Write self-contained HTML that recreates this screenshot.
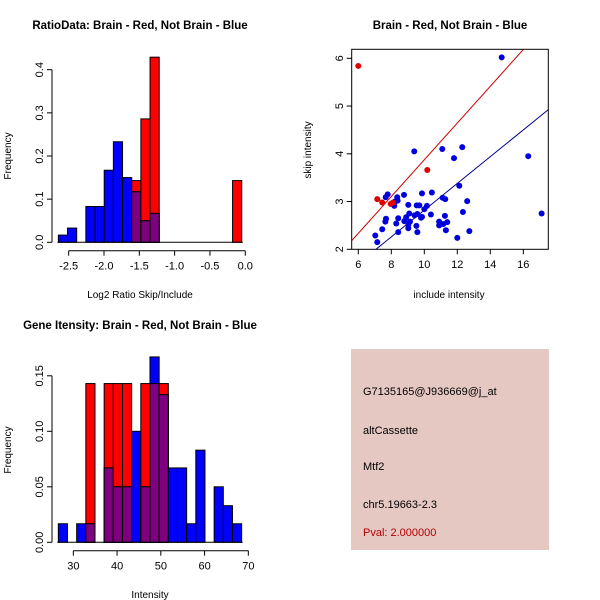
<!DOCTYPE html>
<html><head><meta charset="utf-8"><style>
body{margin:0;background:#fff;}
svg{display:block;font-family:"Liberation Sans",sans-serif;}
</style></head><body>
<svg id="s" width="600" height="600" viewBox="0 0 600 600">
<rect width="600" height="600" fill="#fff"/>
<text x="140" y="29" font-size="11.5" font-weight="bold" text-anchor="middle">RatioData: Brain - Red, Not Brain - Blue</text>
<text x="450" y="29" font-size="11.5" font-weight="bold" text-anchor="middle">Brain - Red, Not Brain - Blue</text>
<text x="140" y="329" font-size="11.5" font-weight="bold" text-anchor="middle">Gene Itensity: Brain - Red, Not Brain - Blue</text>
<text x="140" y="298" font-size="10" text-anchor="middle">Log2 Ratio Skip/Include</text>
<text transform="translate(11,156) rotate(-90)" font-size="10" text-anchor="middle">Frequency</text>
<text x="449" y="298" font-size="10" text-anchor="middle">include intensity</text>
<text transform="translate(311,150) rotate(-90)" font-size="10" text-anchor="middle">skip intensity</text>
<text x="150" y="598" font-size="10" text-anchor="middle">Intensity</text>
<text transform="translate(11,450) rotate(-90)" font-size="10" text-anchor="middle">Frequency</text>
<g>
<rect x="351" y="349" width="198" height="201" fill="#e6c8c2"/>
<text x="363" y="395" font-size="11">G7135165@J936669@j_at</text>
<text x="363" y="434" font-size="11">altCassette</text>
<text x="363" y="470" font-size="11">Mtf2</text>
<text x="363" y="508" font-size="11">chr5.19663-2.3</text>
<text x="363" y="536" font-size="11" fill="#b00000">Pval: 2.000000</text>
</g>
</svg>
<script>
// Ratio histogram data
const ratioStart = -2.646, ratioWidth = 0.1298;
const ratioBlue = [0.0167,0.033,0,0.083,0.083,0.167,0.233,0.15,0.117,0.05,0.067,0,0,0,0,0,0,0,0,0];
const ratioRed = [0,0,0,0,0,0,0,0,0.143,0.286,0.429,0,0,0,0,0,0,0,0,0.143];
const ratioXTicks = [-2.5,-2.0,-1.5,-1.0,-0.5,0.0];
const ratioXLabels = ["-2.5","-2.0","-1.5","-1.0","-0.5","0.0"];
const ratioYTicks = [0,0.1,0.2,0.3,0.4];
const ratioYLabels = ["0.0","0.1","0.2","0.3","0.4"];
// Intensity histogram data
const intStart = 26.57, intWidth = 2.095;
const intBlue = [0.0167,0,0.0167,0.0167,0,0.067,0.05,0.05,0.1,0.05,0.167,0.133,0.067,0.067,0.0167,0.083,0,0.05,0.033,0.0167];
const intRed = [0,0,0,0.143,0,0.143,0.143,0.143,0,0.143,0.143,0.143,0,0,0,0,0,0,0,0];
const intXTicks = [30,40,50,60,70];
const intXLabels = ["30","40","50","60","70"];
const intYTicks = [0,0.05,0.10,0.15];
const intYLabels = ["0.00","0.05","0.10","0.15"];
// Scatter data
const redX = [6.0,7.15,7.45,7.96,8.1,10.18];
const redY = [5.84,3.05,2.98,2.95,2.98,3.66];
const blueX = [14.69,16.3,17.11,9.39,11.09,12.30,11.8,12.12,10.46,9.86,11.11,11.27,12.6,12.34,12.73,12.0,11.31,11.39,11.25,11.15,10.9,10.9,10.4,10.16,10.0,9.86,9.58,9.41,9.54,9.7,9.03,8.77,8.36,8.38,8.22,8.18,7.78,7.66,7.68,7.64,7.45,7.03,7.15,8.42,8.3,8.42,8.79,8.9,9.03,9.03,9.09,9.13,9.52,9.58,9.8];
const blueY = [6.02,3.95,2.75,4.05,4.10,4.14,3.91,3.33,3.19,3.17,3.08,3.05,3.01,2.78,2.38,2.24,2.40,2.57,2.70,2.53,2.58,2.50,2.73,2.91,2.84,2.68,2.74,2.71,2.92,2.92,2.93,3.14,3.09,3.02,3.0,2.91,3.15,3.09,2.64,2.58,2.42,2.29,2.15,2.65,2.54,2.36,2.59,2.67,2.51,2.44,2.75,2.58,2.49,2.36,2.66];
const redFit = [0.024,0.385];
const blueFit = [0.02,0.28];
const scXTicks = [6,8,10,12,14,16];
const scYTicks = [2,3,4,5,6];

const NS="http://www.w3.org/2000/svg", svg=document.getElementById('s');
function mk(t,a,p){const e=document.createElementNS(NS,t);for(const k in a)e.setAttribute(k,a[k]);(p||svg).appendChild(e);return e;}

function hist(name,start,w,blue,red,xs,ys,xt,xl,yt,yl,axY){
  const g=mk('g',{});
  
  
  const n=blue.length;
  for(let i=0;i<n;i++){
    const x0=xs(start+i*w),x1=xs(start+(i+1)*w);
    const r=red[i],b=blue[i],m=Math.min(r,b);
    if(r>0){const e=mk('rect',{x:x0,y:ys(r),width:x1-x0,height:ys(0)-ys(r),fill:'#ff0000',stroke:'#000','stroke-width':1},g);
      
      }
    if(b>0){const e=mk('rect',{x:x0,y:ys(b),width:x1-x0,height:ys(0)-ys(b),fill:'#0000ff',stroke:'#000','stroke-width':1},g);
      
      }
    if(m>0){const e=mk('rect',{x:x0,y:ys(m),width:x1-x0,height:ys(0)-ys(m),fill:'#7f007f',stroke:'#000','stroke-width':1},g);
      
      }
  }
  mk('line',{x1:xs(start)-1,x2:xs(start+n*w)+1,y1:ys(0),y2:ys(0),stroke:'#000'},g);
  mk('line',{x1:xs(xt[0]),x2:xs(xt[xt.length-1]),y1:axY,y2:axY,stroke:'#000'},g);
  xt.forEach((v,i)=>{mk('line',{x1:xs(v),x2:xs(v),y1:axY,y2:axY+5,stroke:'#000'},g);
    const t=mk('text',{x:xs(v),y:axY+19,'font-size':11,'text-anchor':'middle'},g);t.textContent=xl[i];
    
    });
  const ax=52;
  mk('line',{x1:ax,x2:ax,y1:ys(yt[0]),y2:ys(yt[yt.length-1]),stroke:'#000'},g);
  yt.forEach((v,i)=>{mk('line',{x1:ax-5,x2:ax,y1:ys(v),y2:ys(v),stroke:'#000'},g);
    const t=mk('text',{transform:`translate(${ax-9},${ys(v)}) rotate(-90)`,'font-size':11,'text-anchor':'middle'},g);t.textContent=yl[i];
    
    });
}
hist('ratio-histogram',ratioStart,ratioWidth,ratioBlue,ratioRed,
  v=>68.67+(v+2.5)*70.64, v=>242.3-v*431.5, ratioXTicks,ratioXLabels,ratioYTicks,ratioYLabels,250.7);
hist('intensity-histogram',intStart,intWidth,intBlue,intRed,
  v=>73.33+(v-30)*4.375, v=>542.3-v*1110, intXTicks,intXLabels,intYTicks,intYLabels,550.7);

// scatter
const sx=v=>358.3+(v-6)*16.5, sy=v=>249.3-(v-2)*47.75;
const sg=mk('g',{});


const clip=mk('clipPath',{id:'cp'},sg);mk('rect',{x:351.7,y:49.3,width:196.6,height:200},clip);
function fitLine(f,col,name){const xa=5.6,xb=17.6;
  const l=mk('line',{x1:sx(xa),y1:sy(f[0]+f[1]*xa),x2:sx(xb),y2:sy(f[0]+f[1]*xb),stroke:col,'stroke-width':1,'clip-path':'url(#cp)'},sg);
  
  }
fitLine(redFit,'#cc0000','red-fit-line');
fitLine(blueFit,'#00008b','blue-fit-line');
blueX.forEach((v,i)=>{const c=mk('circle',{cx:sx(v),cy:sy(blueY[i]),r:3,fill:'#0000dd','clip-path':'url(#cp)'},sg);
  
  });
redX.forEach((v,i)=>{const c=mk('circle',{cx:sx(v),cy:sy(redY[i]),r:3,fill:'#e00000','clip-path':'url(#cp)'},sg);
  
  });
mk('rect',{x:351.7,y:49.3,width:196.6,height:200,fill:'none',stroke:'#000'},sg);
scXTicks.forEach(v=>{mk('line',{x1:sx(v),x2:sx(v),y1:249.3,y2:254.3,stroke:'#000'},sg);
  const t=mk('text',{x:sx(v),y:268,'font-size':11,'text-anchor':'middle'},sg);t.textContent=v;
  
  });
scYTicks.forEach(v=>{mk('line',{x1:346.7,x2:351.7,y1:sy(v),y2:sy(v),stroke:'#000'},sg);
  const t=mk('text',{transform:`translate(343,${sy(v)}) rotate(-90)`,'font-size':11,'text-anchor':'middle'},sg);t.textContent=v;
  
  });
</script>
</body></html>
